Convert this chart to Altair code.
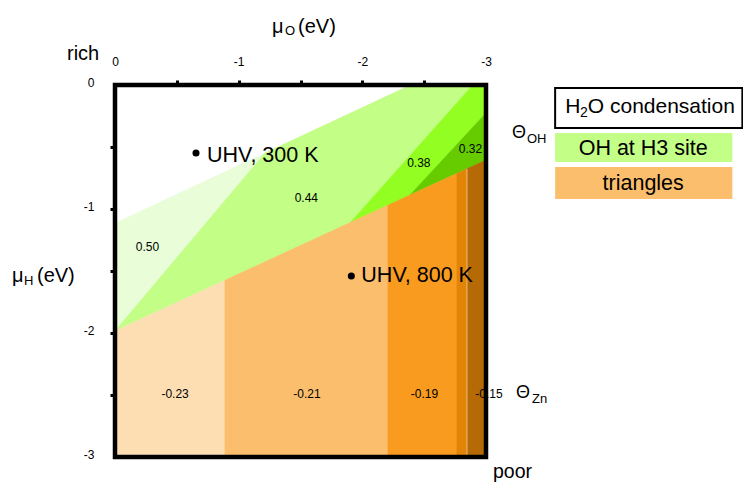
import altair as alt
import pandas as pd

FONT = "Liberation Sans"

# ---------------- axis ticks ----------------
x_ticks = [0, -0.5, -1, -1.5, -2, -2.5, -3]
y_ticks = [0, -0.5, -1, -1.5, -2, -2.5, -3]

# ---------------- phase regions (muO, muH vertices) ----------------
pale_x = [0, -1.213, 0]
pale_y = [-1.115, -0.549, -1.984]
medium_x = [0, -1.213, -2.39, -2.894, -1.902]
medium_y = [-1.984, -0.549, 0, 0, -1.110]
bright_x = [-2.894, -3, -3, -2.385, -1.902]
bright_y = [0, 0, -0.226, -0.888, -1.110]
dark_x = [-3, -3, -2.385]
dark_y = [-0.226, -0.605, -0.888]
or1_x = [0, -0.889, -0.889, 0]
or1_y = [-1.984, -1.575, -3, -3]
or2_x = [-0.889, -2.207, -2.207, -0.889]
or2_y = [-1.575, -0.969, -3, -3]
or3_x = [-2.207, -2.765, -2.765, -2.207]
or3_y = [-0.969, -0.713, -3, -3]
or4_x = [-2.765, -2.846, -2.846, -2.765]
or4_y = [-0.713, -0.676, -3, -3]
or5_x = [-2.846, -3, -3, -2.846]
or5_y = [-0.676, -0.605, -3, -3]

region_names = ["pale", "medium", "bright", "dark", "or1", "or2", "or3", "or4", "or5"]
region_xs = [pale_x, medium_x, bright_x, dark_x, or1_x, or2_x, or3_x, or4_x, or5_x]
region_ys = [pale_y, medium_y, bright_y, dark_y, or1_y, or2_y, or3_y, or4_y, or5_y]
region_colors = ["#E8FDD8", "#C3FE86", "#92FE21", "#66CC00",
                 "#FDDEB3", "#FBBE6C", "#F89B1E", "#E28506", "#B56A05"]

# ---------------- value labels ----------------
value_labels = ["0.50", "0.44", "0.38", "0.32", "-0.23", "-0.21", "-0.19", "-0.15"]
value_x = [-0.263, -1.547, -2.457, -2.874, -0.486, -1.552, -2.502, -3.024]
value_y = [-1.310, -0.911, -0.629, -0.520, -2.492, -2.492, -2.492, -2.492]

# ---------------- experimental points ----------------
point_x = [-0.655, -1.911]
point_y = [-0.548, -1.540]

# ---------------- left-aligned annotation texts (baseline) ----------------
ann_text = ["rich", "μ", "O", "(eV)", "μ", "H", "(eV)", "Θ", "OH", "Θ", "Zn",
            "H", "2", "O condensation", "UHV, 300 K", "UHV, 800 K"]
ann_x = [0.388, -1.270, -1.375, -1.480, 0.833, 0.736, 0.631, -3.210, -3.331, -3.243, -3.372,
         -3.640, -3.760, -3.823, -0.744, -1.992]
ann_y = [0.202, 0.419, 0.403, 0.419, -1.589, -1.613, -1.589, -0.427, -0.468, -2.524, -2.565,
         -0.226, -0.258, -0.226, -0.621, -1.589]
ann_size = [20, 20, 13, 20, 20, 13, 20, 18, 13, 18, 13, 21, 14, 21, 21.5, 21.5]

# ---------------- centered annotation texts ----------------
ctr_text = ["poor", "OH at H3 site", "triangles"]
ctr_x = [-3.214, -4.271, -4.271]
ctr_y = [-3.169, -0.565, -0.847]
ctr_size = [19.5, 21.5, 21.5]

# ---------------- legend boxes ----------------
box_x = [-3.559, -3.559, -3.559]
box_x2 = [-5.073, -4.992, -4.992]
box_y = [-0.024, -0.387, -0.661]
box_y2 = [-0.347, -0.621, -0.919]
box_fill = ["#FFFFFF", "#C3FE86", "#FBBE6C"]
box_stroke = ["black", "#C3FE86", "#FBBE6C"]
box_sw = [2, 0, 0]

# seam between the two darkest orange bands
seam_x = [-2.846]
seam_y = [-0.676]
seam_y2 = [-3]

# plot frame
frame_x = [0]
frame_x2 = [-3]
frame_y = [0]
frame_y2 = [-3]

# ---------------- encodings ----------------
x_scale = alt.Scale(domain=[0, -3], nice=False, zero=False)
y_scale = alt.Scale(domain=[-3, 0], nice=False, zero=False)
hide_ends = {"condition": {"test": "datum.value == 0 || datum.value == -3", "value": 0}, "value": 1}

x_axis = alt.Axis(orient="top", values=x_ticks, title=None, domain=False, grid=False,
                  labelExpr="datum.value % 1 == 0 ? toString(datum.value) : ''",
                  tickSize=5, tickWidth=3, tickColor="black", tickOpacity=hide_ends,
                  labelFont=FONT, labelFontSize=12, labelColor="black", labelPadding=15,
                  labelBaseline="alphabetic", labelFlush=False, labelOverlap=False)
y_axis = alt.Axis(orient="left", values=y_ticks, title=None, domain=False, grid=False,
                  labelExpr="datum.value % 1 == 0 ? toString(datum.value) : ''",
                  tickSize=5, tickWidth=3, tickColor="black", tickOpacity=hide_ends,
                  labelFont=FONT, labelFontSize=12, labelColor="black", labelPadding=16,
                  labelBaseline="middle", labelOffset=-3, labelFlush=False, labelOverlap=False)


def X(f="x"):
    return alt.X(f"{f}:Q", scale=x_scale, axis=x_axis)


def Y(f="y"):
    return alt.Y(f"{f}:Q", scale=y_scale, axis=y_axis)


layers = []

# regions as filled polygons
for name, xs, ys, col in zip(region_names, region_xs, region_ys, region_colors):
    df = pd.DataFrame({"x": xs + [xs[0]], "y": ys + [ys[0]], "i": list(range(len(xs) + 1))})
    layers.append(
        alt.Chart(df).mark_line(fill=col, stroke=col, strokeWidth=0.6, interpolate="linear")
        .encode(x=X(), y=Y(), order=alt.Order("i:Q"))
    )

# seam
layers.append(
    alt.Chart(pd.DataFrame({"x": seam_x, "y": seam_y, "y2": seam_y2}))
    .mark_rule(color="#F2C27E", strokeWidth=1)
    .encode(x=X(), y=Y(), y2="y2:Q")
)

# value labels
layers.append(
    alt.Chart(pd.DataFrame({"x": value_x, "y": value_y, "t": value_labels}))
    .mark_text(font=FONT, fontSize=12, color="black", align="center", baseline="middle")
    .encode(x=X(), y=Y(), text="t:N")
)

# frame
layers.append(
    alt.Chart(pd.DataFrame({"x": frame_x, "x2": frame_x2, "y": frame_y, "y2": frame_y2}))
    .mark_rect(fillOpacity=0, stroke="black", strokeWidth=4.5)
    .encode(x=X(), x2="x2:Q", y=Y(), y2="y2:Q")
)

# points
layers.append(
    alt.Chart(pd.DataFrame({"x": point_x, "y": point_y}))
    .mark_circle(size=50, color="black", opacity=1)
    .encode(x=X(), y=Y())
)

# legend boxes
layers.append(
    alt.Chart(pd.DataFrame({"x": box_x, "x2": box_x2, "y": box_y, "y2": box_y2,
                            "f": box_fill, "s": box_stroke, "w": box_sw}))
    .mark_rect()
    .encode(x=X(), x2="x2:Q", y=Y(), y2="y2:Q",
            fill=alt.Fill("f:N", scale=None), stroke=alt.Stroke("s:N", scale=None),
            strokeWidth=alt.StrokeWidth("w:Q", scale=None))
)

# left-aligned annotations
layers.append(
    alt.Chart(pd.DataFrame({"x": ann_x, "y": ann_y, "t": ann_text, "s": ann_size}))
    .mark_text(font=FONT, color="black", align="left", baseline="alphabetic")
    .encode(x=X(), y=Y(), text="t:N", size=alt.Size("s:Q", scale=None))
)

# centered annotations
layers.append(
    alt.Chart(pd.DataFrame({"x": ctr_x, "y": ctr_y, "t": ctr_text, "s": ctr_size}))
    .mark_text(font=FONT, color="black", align="center", baseline="alphabetic")
    .encode(x=X(), y=Y(), text="t:N", size=alt.Size("s:Q", scale=None))
)

chart = alt.layer(*layers).properties(
    width=371, height=372,
    padding={"left": 115, "top": 85, "right": 257, "bottom": 26},
    autosize=alt.AutoSizeParams(type="none"),
    background="white",
).configure_view(stroke=None)

chart.save("out.html", embed_options={"renderer": "svg", "actions": False})
